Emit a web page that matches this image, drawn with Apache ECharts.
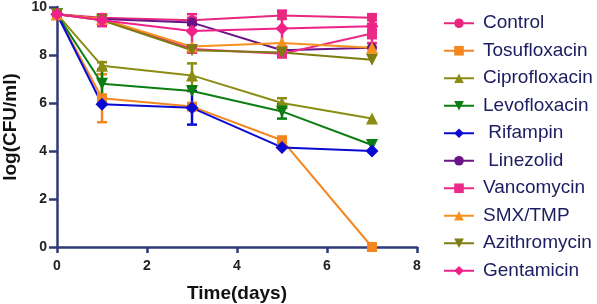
<!DOCTYPE html>
<html>
<head>
<meta charset="utf-8">
<script src="https://cdn.jsdelivr.net/npm/echarts@6/dist/echarts.min.js"></script>
<style>
  html, body { margin: 0; padding: 0; background: #fff; }
  #chart { width: 597px; height: 304px; }
</style>
</head>
<body>
<div id="chart"></div>
<script>
// time points (days)
var days = [0, 1, 3, 5, 7];

// log(CFU/ml) means
var control      = [9.7, 9.55, 9.45, 9.65, 9.55];
var tosufloxacin = [9.7, 6.2, 5.85, 4.45, 0];
var ciprofloxacin = [9.7, 7.55, 7.15, 6.0, 5.35];
var levofloxacin = [9.7, 6.8, 6.5, 5.65, 4.25];
var rifampin     = [9.7, 5.95, 5.8, 4.15, 4.0];
var linezolid    = [9.7, 9.5, 9.35, 8.2, 8.3];
var vancomycin   = [9.7, 9.5, 8.25, 8.05, 8.9];
var smxTmp       = [9.7, 9.5, 8.35, 8.5, 8.3];
var azithromycin = [9.7, 9.45, 8.2, 8.1, 7.8];
var gentamicin   = [9.7, 9.45, 9.0, 9.1, 9.2];

// error bars (+/-)
var controlErr = [0, 0.1, 0.1, 0.15, 0.1];
var tosuErr    = [0, 1.0, 0, 0, 0];
var ciproErr   = [0, 0.15, 0.5, 0.2, 0];
var levoErr    = [0, 0.6, 0, 0.3, 0];
var rifErr     = [0, 0, 0.7, 0, 0];
var linezErr   = [0, 0, 0.1, 0, 0];
var vancoErr   = [0, 0.1, 0, 0, 0.4];
var smxErr     = [0, 0, 0, 0, 0];
var aziErr     = [0, 0, 0, 0, 0];
var gentaErr   = [0, 0.25, 0.7, 0.75, 0.5];

var xTicks = [0, 2, 4, 6, 8];
var yTicks = [0, 2, 4, 6, 8, 10];

var groups = [
  {name: 'Control',       v: control,       e: controlErr, color: '#e8287f', symbol: 'circle', rot: 0},
  {name: 'Tosufloxacin',  v: tosufloxacin,  e: tosuErr,    color: '#f5861f', symbol: 'rect', rot: 0},
  {name: 'Ciprofloxacin', v: ciprofloxacin, e: ciproErr,   color: '#8c8c14', symbol: 'triangle', rot: 0},
  {name: 'Levofloxacin',  v: levofloxacin,  e: levoErr,    color: '#0b7d12', symbol: 'triangle', rot: 180},
  {name: ' Rifampin',     v: rifampin,      e: rifErr,     color: '#0a0ad2', symbol: 'diamond', rot: 0},
  {name: ' Linezolid',    v: linezolid,     e: linezErr,   color: '#6b1487', symbol: 'circle', rot: 0},
  {name: 'Vancomycin',    v: vancomycin,    e: vancoErr,   color: '#ec2a88', symbol: 'rect', rot: 0},
  {name: 'SMX/TMP',       v: smxTmp,        e: smxErr,     color: '#f7911e', symbol: 'triangle', rot: 0},
  {name: 'Azithromycin',  v: azithromycin,  e: aziErr,     color: '#7d7d12', symbol: 'triangle', rot: 180},
  {name: 'Gentamicin',    v: gentamicin,    e: gentaErr,   color: '#f0228a', symbol: 'diamond', rot: 0}
];

var mychart = echarts.init(document.getElementById('chart'));

var series = [];
groups.forEach(function (g) {
  series.push({
    type: 'custom',
    name: g.name + ' err',
    renderItem: function (params, api) {
      var err = api.value(2);
      if (!err) return null;
      var top = api.coord([api.value(0), api.value(1) + err]);
      var bot = api.coord([api.value(0), api.value(1) - err]);
      var w = 5;
      var st = {stroke: g.color, lineWidth: 2.5};
      return {
        type: 'group',
        children: [
          {type: 'line', shape: {x1: top[0], y1: top[1], x2: bot[0], y2: bot[1]}, style: st},
          {type: 'line', shape: {x1: top[0] - w, y1: top[1], x2: top[0] + w, y2: top[1]}, style: st},
          {type: 'line', shape: {x1: bot[0] - w, y1: bot[1], x2: bot[0] + w, y2: bot[1]}, style: st}
        ]
      };
    },
    data: days.map(function (d, i) { return [d, g.v[i], g.e[i]]; }),
    z: 2
  });
  series.push({
    type: 'line',
    name: g.name,
    data: days.map(function (d, i) { return [d, g.v[i]]; }),
    symbol: g.symbol,
    symbolSize: g.symbol === 'diamond' ? 13 : (g.symbol === 'triangle' ? 12 : 10),
    symbolRotate: g.rot,
    showAllSymbol: true,
    color: g.color,
    lineStyle: {width: 2, color: g.color},
    itemStyle: {color: g.color},
    z: 3
  });
});

var axisColor = '#2f3a78';

var option = {
  backgroundColor: '#ffffff',
  animation: false,
  grid: {left: 57, right: 180, top: 7, bottom: 57, containLabel: false, outerBoundsMode: 'none'},
  legend: {
    orient: 'vertical',
    left: 438,
    top: 8,
    itemWidth: 30,
    itemHeight: 12,
    itemGap: 7,
    data: groups.map(function (g) { return g.name; }),
    textStyle: {fontFamily: 'Liberation Sans', fontSize: 19, lineHeight: 20.5, color: '#1c1c60', padding: [0, 0, 0, 4]}
  },
  xAxis: {
    type: 'value',
    min: xTicks[0],
    max: xTicks[xTicks.length - 1],
    interval: 2,
    name: 'Time(days)',
    nameLocation: 'middle',
    nameGap: 37,
    nameTextStyle: {fontFamily: 'Liberation Sans', fontWeight: 'bold', fontSize: 19, color: '#111'},
    axisLine: {show: true, onZero: false, lineStyle: {color: axisColor, width: 2.5}},
    axisTick: {show: true, length: 6, lineStyle: {color: axisColor, width: 2.5}},
    axisLabel: {fontFamily: 'Liberation Sans', fontWeight: 'bold', fontSize: 14, color: '#222', margin: 12},
    splitLine: {show: false}
  },
  yAxis: {
    type: 'value',
    min: yTicks[0],
    max: yTicks[yTicks.length - 1],
    interval: 2,
    name: 'log(CFU/ml)',
    nameLocation: 'middle',
    nameGap: 37,
    nameTextStyle: {fontFamily: 'Liberation Sans', fontWeight: 'bold', fontSize: 19, color: '#111'},
    axisLine: {show: true, onZero: false, lineStyle: {color: axisColor, width: 2.5}},
    axisTick: {show: true, length: 8, lineStyle: {color: axisColor, width: 2.5}},
    axisLabel: {fontFamily: 'Liberation Sans', fontWeight: 'bold', fontSize: 14, color: '#222', margin: 10},
    splitLine: {show: false}
  },
  series: series
};

mychart.setOption(option);
</script>
</body>
</html>
